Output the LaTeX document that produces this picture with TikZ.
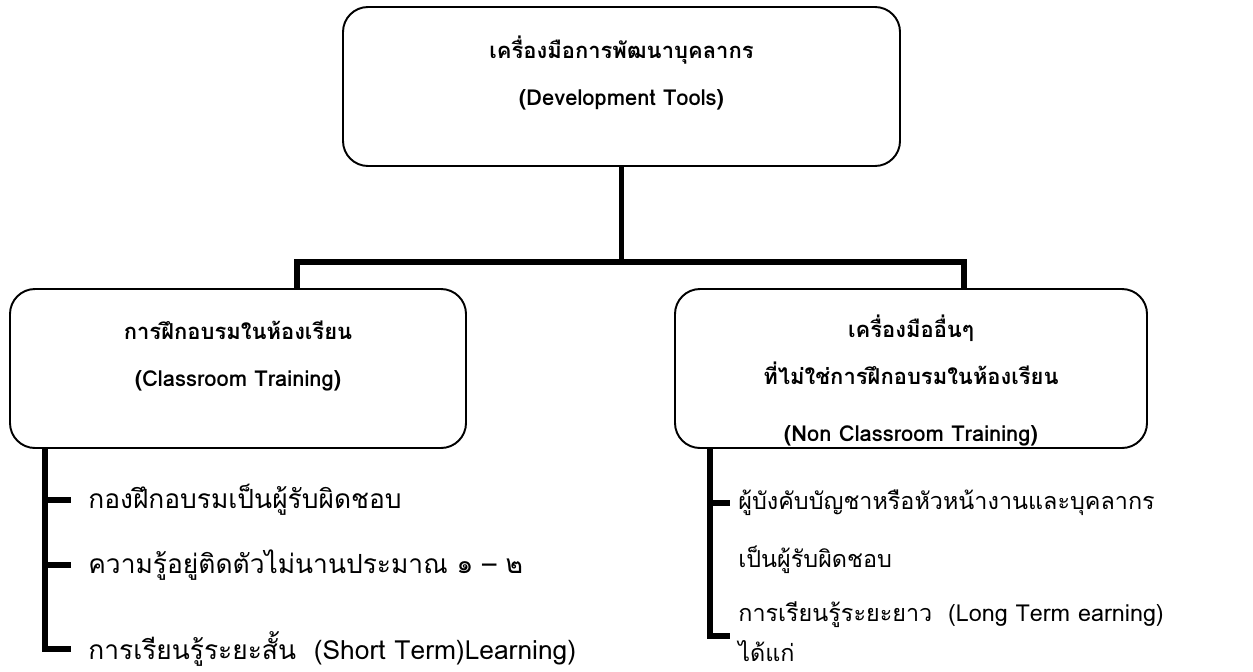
\documentclass[tikz,border=0pt]{standalone}
\usepackage{fontspec}
\setmainfont[Script=Thai]{Loma}
\usetikzlibrary{positioning}

\begin{document}
\begin{tikzpicture}[
	box/.style={draw, line width=1.1pt, rounded corners=0.5cm},
	conn/.style={line width=3.2pt},
	head/.style={font=\bfseries\fontsize{12.5}{14}\selectfont},
	item/.style={anchor=west, inner sep=0pt, font=\fontsize{15}{17}\selectfont},
	ritem/.style={item, font=\fontsize{13.3}{16}\selectfont}]
	\useasboundingbox (0,0) rectangle (25.06,-13.42);
	% boxes
	\node[box, minimum width=11.14cm, minimum height=3.18cm] (top) at (12.43,-1.73) {};
	\node[box, minimum width=9.12cm, minimum height=3.18cm] (left) at (4.76,-7.37) {};
	\node[box, minimum width=9.44cm, minimum height=3.18cm] (right) at (18.22,-7.37) {};
	\node[head] (t1) at (12.43,-1.0) {เครื่องมือการพัฒนาบุคลากร};
	\node[head] (t2) at (12.43,-2.0) {(Development Tools)};
	\node[head] (a1) at (4.76,-6.6) {การฝึกอบรมในห้องเรียน};
	\node[head] (a2) at (4.76,-7.62) {(Classroom Training)};
	\node[head] (b1) at (18.22,-6.56) {เครื่องมืออื่นๆ};
	\node[head] (b2) at (18.22,-7.46) {ที่ไม่ใช่การฝึกอบรมในห้องเรียน};
	\node[head] (b3) at (18.22,-8.72) {(Non Classroom Training)};
	% tree lines
	\coordinate (bar) at (0,-5.24);
	\coordinate (dL) at (5.94,-5.78);
	\coordinate (dR) at (19.28,-5.78);
	\draw[conn] (top.south) -- (top.south |- bar);
	\draw[conn] (dL) -- (dL |- bar) -- (dR |- bar) -- (dR);
	% left list
	\node[item] (l1) at (1.76,-10.0) {กองฝึกอบรมเป็นผู้รับผิดชอบ};
	\node[item] (l2) at (1.76,-11.3) {ความรู้อยู่ติดตัวไม่นานประมาณ ๑ – ๒};
	\node[item] (l3) at (1.76,-12.98) {การเรียนรู้ระยะสั้น\ \ (Short Term)Learning)};
	\coordinate (sL) at (0.9,-8.96);
	\draw[conn] (sL) |- ([xshift=-0.34cm]l3.west);
	\draw[conn] (sL |- l1.west) -- ([xshift=-0.34cm]l1.west);
	\draw[conn] (sL |- l2.west) -- ([xshift=-0.34cm]l2.west);
	% right list
	\node[ritem] (r1) at (14.76,-10.06) {ผู้บังคับบัญชาหรือหัวหน้างานและบุคลากร};
	\node[ritem] (r2) at (14.76,-11.2) {เป็นผู้รับผิดชอบ};
	\node[ritem] (r3) at (14.76,-12.3) {การเรียนรู้ระยะยาว\ \ (Long Term earning)};
	\node[ritem] (r4) at (14.76,-13.02) {ได้แก่};
	\coordinate (sR) at (14.2,-8.96);
	\coordinate (kR) at (14.6,-12.72);
	\draw[conn] (sR) |- (kR);
	\draw[conn] (sR |- r1.west) -- ([xshift=-0.16cm]r1.west);
\end{tikzpicture}
\end{document}
